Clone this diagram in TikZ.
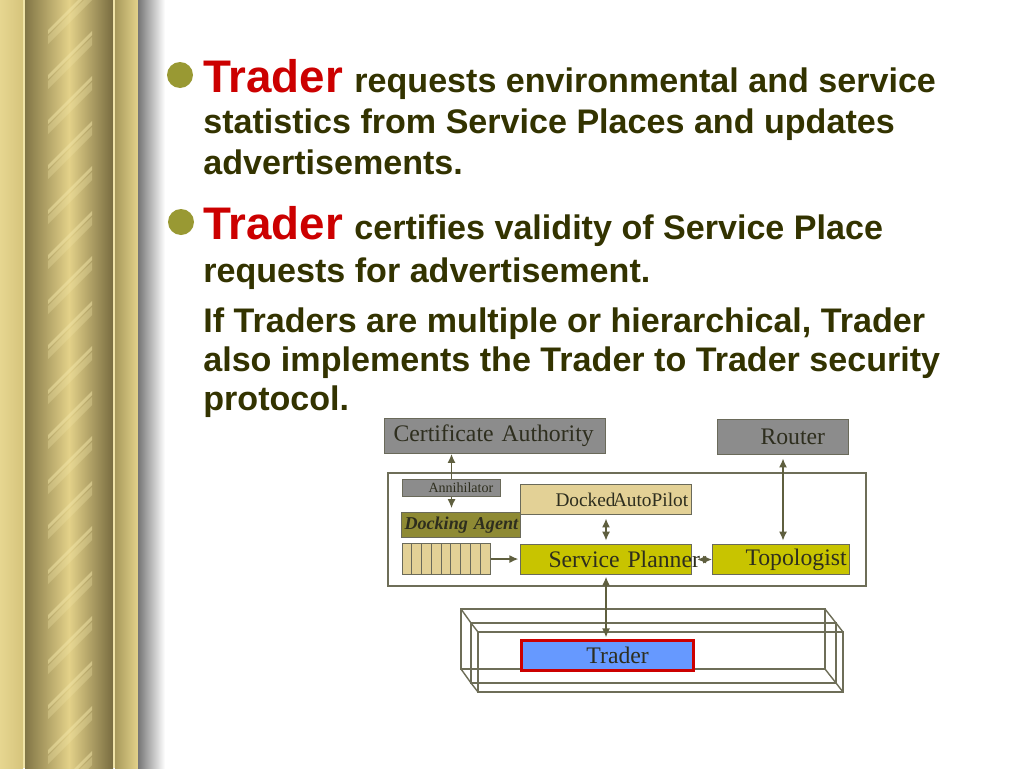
\documentclass[tikz,border=0pt]{standalone}
\usepackage{fontspec}
\setmainfont{Liberation Serif}
\newfontfamily\slidefont{Liberation Sans}
\usetikzlibrary{positioning, arrows, arrows.meta}
\definecolor{textolive}{HTML}{333300}
\definecolor{tradered}{HTML}{CC0000}
\definecolor{bulletcol}{HTML}{999933}
\definecolor{boxgray}{HTML}{8C8C8C}
\definecolor{boxline}{HTML}{6A6A5A}
\definecolor{diagtext}{HTML}{2E2E1E}
\definecolor{tanfill}{HTML}{E3D196}
\definecolor{agentfill}{HTML}{8E8A34}
\definecolor{plannerfill}{HTML}{C8C400}
\definecolor{traderblue}{HTML}{6699FF}
\definecolor{linkcol}{HTML}{5F5F3F}
\definecolor{wirecol}{HTML}{6E6E58}
% pillar colours
\definecolor{goldA}{RGB}{230,214,144}
\definecolor{goldB}{RGB}{214,196,124}
\definecolor{goldLine}{RGB}{240,228,168}
\definecolor{goldDark}{RGB}{130,118,70}
\definecolor{goldMid}{RGB}{227,209,137}
\definecolor{goldDarker}{RGB}{120,108,64}
\definecolor{goldStripe}{RGB}{242,230,168}
\definecolor{goldC}{RGB}{168,154,92}
\definecolor{goldD}{RGB}{227,210,138}
\definecolor{shadowgray}{RGB}{118,118,118}
\newcommand{\bigtrader}{\textcolor{tradered}{\fontsize{26}{30}\selectfont Trader}}
\tikzset{
	x=0.02cm, y=-0.02cm, % one unit is one pixel of the slide
	>={Latex[length=5pt, width=4.5pt]}, % arrow heads
	body/.style={anchor=base west, inner sep=0pt, text=textolive, font=\slidefont\bfseries\fontsize{19.4}{22}\selectfont}, % slide text lines
	dot/.style={circle, fill=bulletcol, inner sep=0pt, minimum size=0.52cm}, % bullets
	box/.style={rectangle, draw=boxline, line width=0.6pt, inner sep=0pt, anchor=north west, align=left, text=diagtext, font=\fontsize{13.5}{15}\selectfont}, % diagram boxes
	frame/.style={rectangle, draw=wirecol, line width=1.2pt, fill=white, inner sep=0pt, anchor=north west}, % host frame
	link/.style={draw=linkcol, line width=0.7pt}, % connectors
	wire/.style={draw=wirecol, line width=0.8pt}, % wire boxes round the trader
}
\begin{document}
\begin{tikzpicture}
	\useasboundingbox (0,0) rectangle (1024,768);
	\fill[white] (0,0) rectangle (1024,768);
	% gold pillar on the left
	\shade[left color=goldA, right color=goldB] (0,0) rectangle (23,768);
	\fill[goldLine] (23,0) rectangle (25,768);
	\shade[left color=goldDark, right color=goldDarker, middle color=goldMid] (25,0) rectangle (113,768);
	\begin{scope}
		\clip (40,0) rectangle (100,768);
		\foreach \y in {0,45,...,810} {
			\fill[goldStripe, opacity=0.5] (48,\y+30) -- (92,\y-14) -- (92,\y-10) -- (48,\y+34) -- cycle;
			\fill[goldStripe, opacity=0.3] (48,\y+36) -- (92,\y-8) -- (92,\y) -- (48,\y+44) -- cycle;
		}
	\end{scope}
	\fill[goldLine] (113,0) rectangle (115,768);
	\shade[left color=goldC, right color=goldD] (115,0) rectangle (138,768);
	\shade[left color=shadowgray, right color=white] (138,0) rectangle (165,768);

	% slide text
	\node[dot] (dot1) at (180,75) {};
	\node[body] (l1) at (203,92) {\bigtrader\hspace{6.5pt}requests environmental and service};
	\node[body] (l2) at (203,133) {statistics from Service Places and updates};
	\node[body] (l3) at (203,174) {advertisements.};
	\node[dot] (dot2) at (181,222) {};
	\node[body] (l4) at (203,239) {\bigtrader\hspace{6.5pt}certifies validity of Service Place};
	\node[body] (l5) at (203,282) {requests for advertisement.};
	\node[body] (l6) at (203,332) {If Traders are multiple or hierarchical, Trader};
	\node[body] (l7) at (203,371) {also implements the Trader to Trader security};
	\node[body] (l8) at (203,410) {protocol.};

	% diagram
	\node[box, fill=boxgray, text width=4.42cm, minimum height=0.70cm] (ca) at (384,418) {\hspace*{0.18cm}Certificate Authority};
	\node[box, fill=boxgray, text width=2.62cm, minimum height=0.70cm] (router) at (717,419) {\hspace*{0.86cm}Router};
	\node[frame, minimum width=9.56cm, minimum height=2.26cm] (host) at (387,472) {};
	\node[box, fill=boxgray, text width=1.96cm, minimum height=0.34cm, font=\fontsize{8}{9}\selectfont] (anni) at (402,479) {\hspace*{0.52cm}Annihilator};
	\node[box, fill=tanfill, text width=3.42cm, minimum height=0.60cm, font=\fontsize{11}{13}\selectfont] (docked) at (520,484) {\hspace*{0.70cm}Docked\kern-1.5pt AutoPilot};
	\node[box, fill=agentfill, text width=2.38cm, minimum height=0.50cm, font=\bfseries\itshape\fontsize{10.3}{12}\selectfont] (agent) at (401,512) {\hspace*{0.06cm}Docking Agent};
	\node[box, fill=tanfill, text width=1.76cm, minimum height=0.62cm] (queue) at (402,543) {};
	\foreach \i in {1,...,8}
		\draw[boxline, line width=0.6pt] ([xshift=\i*0.1956cm]queue.north west) -- ([xshift=\i*0.1956cm]queue.south west);
	\node[box, fill=plannerfill, text width=3.42cm, minimum height=0.60cm] (planner) at (520,544) {\hspace*{0.56cm}\mbox{Service Planner}};
	\node[box, fill=plannerfill, text width=2.74cm, minimum height=0.60cm] (topo) at (712,544) {\hspace*{0.66cm}Topologist};

	% wire boxes
	\draw[wire] (461,609) rectangle (825,669) (471,623) rectangle (836,683) (478,632) rectangle (843,692);
	\draw[wire] (461,609) -- (471,623) -- (478,632) (825,609) -- (836,623) -- (843,632)
		(461,669) -- (471,683) -- (478,692) (825,669) -- (836,683) -- (843,692);
	\node[box, fill=traderblue, draw=tradered, line width=1.7pt, text width=3.44cm, minimum height=0.60cm] (trader) at (520,639) {\hspace*{1.30cm}Trader};

	% connectors
	\draw[link, ->] (anni.north) -- (ca.south -| anni.north);
	\draw[link, ->] (anni.south) -- ([yshift=0.08cm]agent.north -| anni.south);
	\draw[link, <->, shorten <=2pt, shorten >=2pt] (docked.south) -- (planner.north);
	\draw[link, <->, shorten <=2pt, shorten >=2pt] (router.south) -- (router.south |- topo.north);
	\draw[link, ->, shorten >=1pt] (queue.east) -- (queue.east -| planner.west);
	\draw[link, <->, shorten <=3pt] (planner.east) -- (topo.west);
	\draw[link, <->, shorten <=1pt, shorten >=1pt] (planner.south) -- (planner.south |- trader.north);
\end{tikzpicture}
\end{document}
